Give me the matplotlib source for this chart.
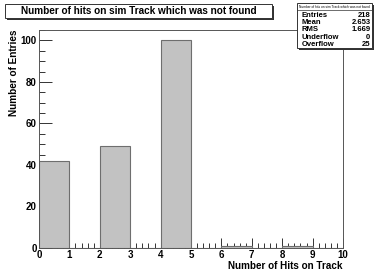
import matplotlib.pyplot as plt
import matplotlib.patches as mpatches
from matplotlib.ticker import MultipleLocator

# histogram contents, one bin per unit from 0 to 10
bin_edges = [0, 1, 2, 3, 4, 5, 6, 7, 8, 9, 10]
bin_counts = [42, 0, 49, 0, 100, 0, 1, 0, 1, 0]

# stats box
stat_names = ["Entries", "Mean", "RMS", "Underflow", "Overflow"]
stat_values = ["218", "2.653", "1.669", "0", "25"]

title_text = "Number of hits on sim Track which was not found"
x_title = "Number of Hits on Track"
y_title = "Number of Entries"

plt.rcParams['font.family'] = ['Liberation Sans', 'DejaVu Sans']
plt.rcParams['font.weight'] = 'bold'

W, H = 375, 271
fig = plt.figure(figsize=(W / 100, H / 100), dpi=100)
ax = fig.add_axes([39 / W, 1 - 248 / H, (343 - 39) / W, (248 - 30) / H])

ax.bar(bin_edges[:-1], bin_counts, width=1, align='edge',
       color='#c2c2c2', edgecolor='#6e6e6e', linewidth=0.8, zorder=2)

ax.set_xlim(0, 10)
ax.set_ylim(0, 105)
ax.xaxis.set_major_locator(MultipleLocator(1))
ax.xaxis.set_minor_locator(MultipleLocator(0.2))
ax.yaxis.set_major_locator(MultipleLocator(20))
ax.yaxis.set_minor_locator(MultipleLocator(5))
ax.tick_params(which='both', direction='in', top=False, right=False,
               labelsize=7, width=0.7, color='#333333', pad=1.5)
ax.tick_params(axis='y', which='major', length=9)
ax.tick_params(axis='y', which='minor', length=4.5)
ax.tick_params(axis='x', which='major', length=7)
ax.tick_params(axis='x', which='minor', length=3.5)
for lab in ax.get_xticklabels() + ax.get_yticklabels():
    lab.set_fontweight('bold')
for sp in ax.spines.values():
    sp.set_linewidth(0.7)
    sp.set_color('#555555')

# axis titles, ROOT style: aligned to the far end of each axis
fig.text(343 / W, 1 - 266 / H, x_title, ha='right', va='center',
         fontsize=7.1, fontweight='bold')
fig.text(14.5 / W, 1 - 29 / H, y_title, ha='center', va='top', rotation=90,
         fontsize=7.2, fontweight='bold')

# white box with a dark drop shadow, coordinates in pixels from top-left
def box(x0, y0, x1, y1):
    sh = mpatches.Rectangle((x0 / W + 2 / W, 1 - (y1 + 2) / H), (x1 - x0) / W, (y1 - y0) / H,
                            transform=fig.transFigure, facecolor='#333333',
                            edgecolor='none', zorder=5)
    bx = mpatches.Rectangle((x0 / W, 1 - y1 / H), (x1 - x0) / W, (y1 - y0) / H,
                            transform=fig.transFigure, facecolor='white',
                            edgecolor='#333333', linewidth=0.7, zorder=6)
    fig.patches.extend([sh, bx])

box(5, 4, 272, 18)
fig.text(139 / W, 1 - 11.5 / H, title_text, ha='center', va='center',
         fontsize=7.2, fontweight='bold', zorder=7)

# stats box
box(297, 3, 372, 48)
fig.text(334.5 / W, 1 - 6.5 / H, title_text, ha='center', va='center',
         fontsize=2.3, fontweight='normal', zorder=7)
fig.lines.append(plt.Line2D([297 / W, 372 / W], [1 - 9.5 / H, 1 - 9.5 / H],
                            transform=fig.transFigure, color='#333333',
                            linewidth=0.5, zorder=7))
for i, (name, val) in enumerate(zip(stat_names, stat_values)):
    yy = 1 - (15.5 + 7.2 * i) / H
    fig.text(302 / W, yy, name, ha='left', va='center', fontsize=5.5,
             fontweight='bold', zorder=7)
    fig.text(370.5 / W, yy, val, ha='right', va='center', fontsize=5.5,
             fontweight='bold', zorder=7)

fig.savefig('out.png', dpi=100)
